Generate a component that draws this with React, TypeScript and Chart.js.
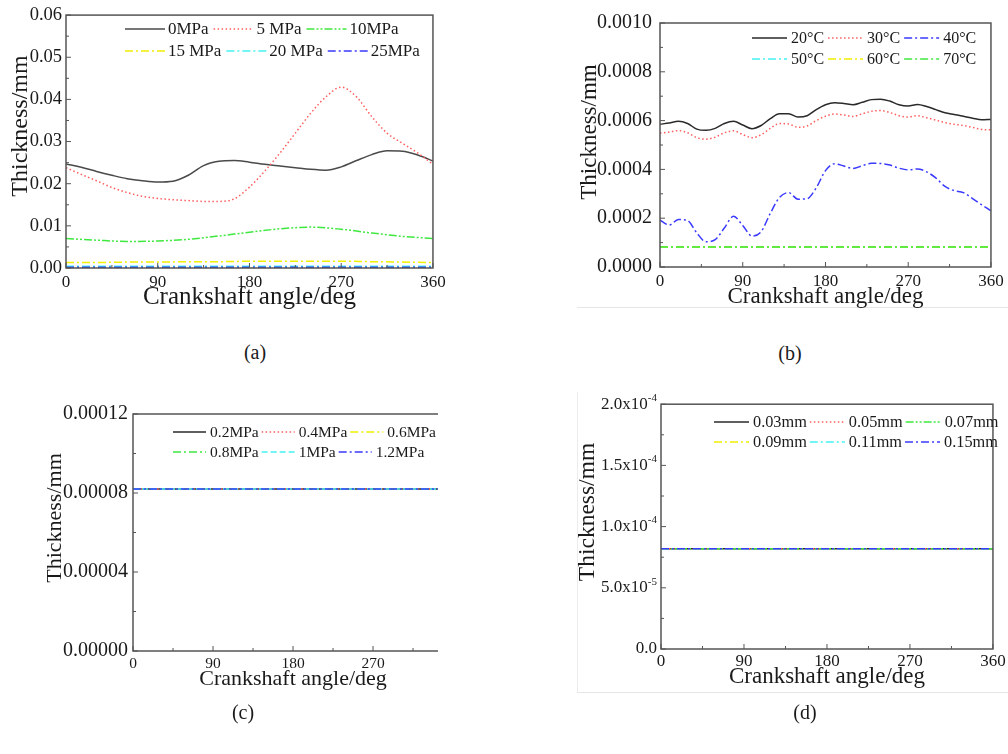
import React, { useEffect, useRef } from 'react';
import { Chart, registerables } from 'chart.js';

Chart.register(...registerables);

const SERIF = "'Liberation Serif', 'Times New Roman', serif";
const INK = '#1a1a1a';
const FRAME = '#555555';

// ---------- shared axis text ----------
const X_TICKS = [0, 90, 180, 270, 360];
const X_LABELS = ['0', '90', '180', '270', '360'];
const X_TITLE = 'Crankshaft angle/deg';
const Y_TITLE = 'Thickness/mm';

// ---------- line styles ----------
const BLACK = '#2a2a2a';
const GRAY = '#4a4a4a';
const RED = '#ff5c5c';
const GREEN = '#3fe83f';
const YELLOW = '#f0f000';
const CYAN = '#45f2f2';
const BLUE = '#3a3aff';
const SOLID: number[] = [];
const DOT = [1.5, 2.5];
const DASHDOT = [8, 3, 2, 3];
const DASHDOTDOT = [8, 2, 2, 2, 2, 2];
const DASH = [6, 3];

// ---------- panel (a) ----------
const A_ANGLES = [0, 15, 30, 45, 60, 75, 90, 105, 120, 135, 150, 165, 180, 195, 210, 225, 240, 255, 270, 285, 300, 315, 330, 345, 360];
const A_0MPA = [0.0247, 0.0239, 0.0229, 0.022, 0.0212, 0.0207, 0.0204, 0.0206, 0.022, 0.0243, 0.0253, 0.0255, 0.0251, 0.0246, 0.0242, 0.0238, 0.0234, 0.0232, 0.024, 0.0255, 0.0269, 0.0278, 0.0277, 0.0268, 0.0254];
const A_5MPA = [0.0238, 0.0222, 0.0207, 0.0191, 0.0179, 0.017, 0.0165, 0.0162, 0.016, 0.0158, 0.0158, 0.0164, 0.0192, 0.023, 0.0273, 0.032, 0.0367, 0.0406, 0.0429, 0.0406, 0.0359, 0.032, 0.0296, 0.0273, 0.0246];
const A_LOW_ANGLES = [0, 30, 60, 90, 120, 150, 180, 210, 240, 270, 300, 330, 360];
const A_10MPA = [0.007, 0.0066, 0.0063, 0.0064, 0.0068, 0.0076, 0.0085, 0.0093, 0.0097, 0.0092, 0.0083, 0.0075, 0.007];
const A_15MPA = [0.0013, 0.0013, 0.0014, 0.0014, 0.0015, 0.0015, 0.0016, 0.0016, 0.0016, 0.0016, 0.0015, 0.0014, 0.0013];
const A_20MPA = [0.0004, 0.0004, 0.0004, 0.0004, 0.0004, 0.0004, 0.0004, 0.0004, 0.0004, 0.0004, 0.0004, 0.0004, 0.0004];
const A_25MPA = [0.0002, 0.0002, 0.0002, 0.0002, 0.0002, 0.0002, 0.0002, 0.0002, 0.0002, 0.0002, 0.0002, 0.0002, 0.0002];
const A_NAMES = ['0MPa', '5 MPa', '10MPa', '15 MPa', '20 MPa', '25MPa'];
const A_Y_TICKS = [0, 0.01, 0.02, 0.03, 0.04, 0.05, 0.06];
const A_Y_LABELS = ['0.00', '0.01', '0.02', '0.03', '0.04', '0.05', '0.06'];

// ---------- panel (b) ----------
const B_ANGLES = [0, 10, 20, 30, 40, 50, 60, 70, 80, 90, 100, 110, 120, 130, 140, 150, 160, 170, 180, 190, 200, 210, 220, 230, 240, 250, 260, 270, 280, 290, 300, 310, 320, 330, 340, 350, 360];
const B_20C = [0.000585, 0.00059, 0.000597, 0.000588, 0.000565, 0.00056, 0.000568, 0.000588, 0.000597, 0.000582, 0.000567, 0.00058, 0.000608, 0.000628, 0.000628, 0.000615, 0.00062, 0.000645, 0.000665, 0.000673, 0.00067, 0.000665, 0.000675, 0.000686, 0.000688, 0.00068, 0.000665, 0.00066, 0.000666, 0.000658, 0.000645, 0.000632, 0.000625, 0.000618, 0.00061, 0.000603, 0.000605];
const B_30C = [0.000548, 0.000553, 0.000559, 0.00055, 0.00053, 0.000524, 0.000532, 0.00055, 0.000558, 0.000543, 0.00053, 0.000542, 0.000568, 0.000588, 0.000586, 0.000573, 0.000578, 0.0006, 0.000618, 0.000627, 0.000623, 0.000617, 0.000628, 0.000638, 0.000641, 0.000633, 0.00062, 0.000615, 0.00062, 0.000612, 0.000602, 0.000592, 0.000585, 0.00058, 0.000572, 0.000564, 0.000562];
const B_40C = [0.000192, 0.000172, 0.000195, 0.00019, 0.00014, 0.000103, 0.000112, 0.00016, 0.000208, 0.00017, 0.000127, 0.000145, 0.00022, 0.000285, 0.000305, 0.000278, 0.00028, 0.000325, 0.000395, 0.000423, 0.000414, 0.000404, 0.000415, 0.000425, 0.000424, 0.000418, 0.000405, 0.000398, 0.000402, 0.00039, 0.000365, 0.00033, 0.000313, 0.000305, 0.00028, 0.000255, 0.00023];
const B_FLAT_ANGLES = [0, 360];
const B_50C = [0.000082, 0.000082];
const B_60C = [0.000082, 0.000082];
const B_70C = [0.000082, 0.000082];
const B_NAMES = ['20\u00B0C', '30\u00B0C', '40\u00B0C', '50\u00B0C', '60\u00B0C', '70\u00B0C'];
const B_Y_TICKS = [0, 0.0002, 0.0004, 0.0006, 0.0008, 0.001];
const B_Y_LABELS = ['0.0000', '0.0002', '0.0004', '0.0006', '0.0008', '0.0010'];

// ---------- panel (c) ----------
const C_ANGLES = [0, 360];
const C_02MPA = [0.000082, 0.000082];
const C_04MPA = [0.000082, 0.000082];
const C_06MPA = [0.000082, 0.000082];
const C_08MPA = [0.000082, 0.000082];
const C_1MPA = [0.000082, 0.000082];
const C_12MPA = [0.000082, 0.000082];
const C_NAMES = ['0.2MPa', '0.4MPa', '0.6MPa', '0.8MPa', '1MPa', '1.2MPa'];
const C_Y_TICKS = [0, 0.00004, 0.00008, 0.00012];
const C_Y_LABELS = ['0.00000', '0.00004', '0.00008', '0.00012'];

// ---------- panel (d) ----------
const D_ANGLES = [0, 360];
const D_003 = [0.000082, 0.000082];
const D_005 = [0.000082, 0.000082];
const D_007 = [0.000082, 0.000082];
const D_009 = [0.000082, 0.000082];
const D_011 = [0.000082, 0.000082];
const D_015 = [0.000082, 0.000082];
const D_NAMES = ['0.03mm', '0.05mm', '0.07mm', '0.09mm', '0.11mm', '0.15mm'];
const D_Y_TICKS = [0, 0.00005, 0.0001, 0.00015, 0.0002];
const D_Y_MANT = ['0.0', '5.0x10', '1.0x10', '1.5x10', '2.0x10'];
const D_Y_EXP = ['', '-5', '-4', '-4', '-4'];

type Series = { label: string; angles: number[]; values: number[]; color: string; dash: number[] };
type Spec = {
  left: number; top: number; w: number; h: number; clipW?: number;
  padTop: number; padRight: number; yWidth: number; xHeight: number;
  yMax: number; yTicks: number[]; yLabels?: string[]; yFont: number; yPad: number;
  sup?: { mant: string[]; exp: string[]; font: number; expFont: number; pad: number };
  xFont: number; xPad: number; xTitleFont: number; xTitlePad: number;
  yTitle: { x: number; y: number; font: number };
  legend: { x: number; rows: number[]; lineLen: number; gapText: number; gapItem: number; font: number };
  series: Series[];
};

const SPEC_A: Spec = {
  left: 0, top: 0, w: 450, h: 320,
  padTop: 12, padRight: 17, yWidth: 66, xHeight: 52,
  yMax: 0.06, yTicks: A_Y_TICKS, yLabels: A_Y_LABELS, yFont: 18.5, yPad: 4,
  xFont: 17, xPad: 4.3, xTitleFont: 25, xTitlePad: 8,
  yTitle: { x: 21, y: 126, font: 24 },
  legend: { x: 125, rows: [29, 51], lineLen: 40, gapText: 3, gapItem: 5, font: 17 },
  series: [
    { label: A_NAMES[0], angles: A_ANGLES, values: A_0MPA, color: GRAY, dash: SOLID },
    { label: A_NAMES[1], angles: A_ANGLES, values: A_5MPA, color: RED, dash: DOT },
    { label: A_NAMES[2], angles: A_LOW_ANGLES, values: A_10MPA, color: GREEN, dash: DASHDOTDOT },
    { label: A_NAMES[3], angles: A_LOW_ANGLES, values: A_15MPA, color: YELLOW, dash: DASHDOT },
    { label: A_NAMES[4], angles: A_LOW_ANGLES, values: A_20MPA, color: CYAN, dash: DASHDOT },
    { label: A_NAMES[5], angles: A_LOW_ANGLES, values: A_25MPA, color: BLUE, dash: DASHDOT },
  ],
};

const SPEC_B: Spec = {
  left: 570, top: 0, w: 438, h: 320,
  padTop: 23, padRight: 12, yWidth: 90, xHeight: 53,
  yMax: 0.001, yTicks: B_Y_TICKS, yLabels: B_Y_LABELS, yFont: 20, yPad: 8,
  xFont: 17, xPad: 4.3, xTitleFont: 23, xTitlePad: 9.2,
  yTitle: { x: 20, y: 132, font: 23 },
  legend: { x: 182, rows: [38, 59], lineLen: 35, gapText: 4, gapItem: 4, font: 16 },
  series: [
    { label: B_NAMES[0], angles: B_ANGLES, values: B_20C, color: BLACK, dash: SOLID },
    { label: B_NAMES[1], angles: B_ANGLES, values: B_30C, color: RED, dash: DOT },
    { label: B_NAMES[2], angles: B_ANGLES, values: B_40C, color: BLUE, dash: DASHDOT },
    { label: B_NAMES[3], angles: B_FLAT_ANGLES, values: B_50C, color: CYAN, dash: DASHDOT },
    { label: B_NAMES[4], angles: B_FLAT_ANGLES, values: B_60C, color: YELLOW, dash: DASHDOT },
    { label: B_NAMES[5], angles: B_FLAT_ANGLES, values: B_70C, color: GREEN, dash: DASHDOT },
  ],
};

const SPEC_C: Spec = {
  left: 0, top: 390, w: 470, h: 320, clipW: 438,
  padTop: 24, padRight: 17, yWidth: 133, xHeight: 59,
  yMax: 0.00012, yTicks: C_Y_TICKS, yLabels: C_Y_LABELS, yFont: 20, yPad: 5,
  xFont: 15.5, xPad: 3.2, xTitleFont: 22, xTitlePad: 17.8,
  yTitle: { x: 55, y: 128, font: 22 },
  legend: { x: 173, rows: [42, 62], lineLen: 33, gapText: 4, gapItem: 3, font: 15.5 },
  series: [
    { label: C_NAMES[0], angles: C_ANGLES, values: C_02MPA, color: BLACK, dash: SOLID },
    { label: C_NAMES[1], angles: C_ANGLES, values: C_04MPA, color: RED, dash: DOT },
    { label: C_NAMES[2], angles: C_ANGLES, values: C_06MPA, color: YELLOW, dash: DASHDOT },
    { label: C_NAMES[3], angles: C_ANGLES, values: C_08MPA, color: GREEN, dash: DASHDOT },
    { label: C_NAMES[4], angles: C_ANGLES, values: C_1MPA, color: CYAN, dash: DASH },
    { label: C_NAMES[5], angles: C_ANGLES, values: C_12MPA, color: BLUE, dash: DASHDOT },
  ],
};

const SPEC_D: Spec = {
  left: 570, top: 390, w: 438, h: 320,
  padTop: 14, padRight: 13, yWidth: 91, xHeight: 61,
  yMax: 0.0002, yTicks: D_Y_TICKS, yFont: 17, yPad: 4,
  sup: { mant: D_Y_MANT, exp: D_Y_EXP, font: 17, expFont: 11, pad: 4 },
  xFont: 17, xPad: 2.3, xTitleFont: 23, xTitlePad: 19.2,
  yTitle: { x: 18, y: 122, font: 23.5 },
  legend: { x: 144, rows: [32, 52], lineLen: 35, gapText: 4, gapItem: 3, font: 16.3 },
  series: [
    { label: D_NAMES[0], angles: D_ANGLES, values: D_003, color: BLACK, dash: SOLID },
    { label: D_NAMES[1], angles: D_ANGLES, values: D_005, color: RED, dash: DOT },
    { label: D_NAMES[2], angles: D_ANGLES, values: D_007, color: GREEN, dash: DASHDOTDOT },
    { label: D_NAMES[3], angles: D_ANGLES, values: D_009, color: YELLOW, dash: DASHDOT },
    { label: D_NAMES[4], angles: D_ANGLES, values: D_011, color: CYAN, dash: DASHDOT },
    { label: D_NAMES[5], angles: D_ANGLES, values: D_015, color: BLUE, dash: DASHDOT },
  ],
};

const decorPlugin = {
  id: 'decor',
  afterDraw(chart: any, _args: any, o: any) {
    const { ctx, chartArea: ca } = chart;
    const xs = chart.scales.x;
    const ys = chart.scales.y;
    ctx.save();
    ctx.setLineDash([]);
    // frame
    ctx.strokeStyle = FRAME;
    ctx.lineWidth = 1.5;
    ctx.strokeRect(ca.left, ca.top, ca.right - ca.left, ca.bottom - ca.top);
    // inward ticks
    ctx.lineWidth = 1;
    const seg = (x1: number, y1: number, x2: number, y2: number) => {
      ctx.beginPath();
      ctx.moveTo(x1, y1);
      ctx.lineTo(x2, y2);
      ctx.stroke();
    };
    const xv = xs.ticks.map((t: any) => t.value);
    xv.forEach((v: number, i: number) => {
      const p = xs.getPixelForValue(v);
      seg(p, ca.bottom, p, ca.bottom - 5);
      if (i < xv.length - 1) {
        const m = xs.getPixelForValue((v + xv[i + 1]) / 2);
        seg(m, ca.bottom, m, ca.bottom - 3);
      }
    });
    const yv = ys.ticks.map((t: any) => t.value);
    yv.forEach((v: number, i: number) => {
      const p = ys.getPixelForValue(v);
      seg(ca.left, p, ca.left + 5, p);
      if (i < yv.length - 1) {
        const m = ys.getPixelForValue((v + yv[i + 1]) / 2);
        seg(ca.left, m, ca.left + 3, m);
      }
    });
    // superscript tick labels
    if (o.sup) {
      ctx.fillStyle = INK;
      ctx.textBaseline = 'middle';
      yv.forEach((v: number, i: number) => {
        const p = ys.getPixelForValue(v);
        let xr = ca.left - o.sup.pad;
        const e = o.sup.exp[i];
        if (e) {
          ctx.font = `${o.sup.expFont}px ${SERIF}`;
          ctx.textAlign = 'right';
          ctx.fillText(e, xr, p - 6);
          xr -= ctx.measureText(e).width;
        }
        ctx.font = `${o.sup.font}px ${SERIF}`;
        ctx.textAlign = 'right';
        ctx.fillText(o.sup.mant[i], xr, p);
      });
    }
    // y title
    ctx.save();
    ctx.translate(o.yTitle.x, o.yTitle.y);
    ctx.rotate(-Math.PI / 2);
    ctx.font = `${o.yTitle.font}px ${SERIF}`;
    ctx.fillStyle = INK;
    ctx.textAlign = 'center';
    ctx.textBaseline = 'middle';
    ctx.fillText(Y_TITLE, 0, 0);
    ctx.restore();
    // legend
    const L = o.legend;
    ctx.font = `${L.font}px ${SERIF}`;
    ctx.textBaseline = 'middle';
    ctx.textAlign = 'left';
    let x = L.x;
    chart.data.datasets.forEach((ds: any, i: number) => {
      if (i % 3 === 0) x = L.x;
      const y = L.rows[Math.floor(i / 3)];
      ctx.strokeStyle = ds.borderColor;
      ctx.lineWidth = 1.5;
      ctx.setLineDash(ds.borderDash || []);
      seg(x, y, x + L.lineLen, y);
      ctx.setLineDash([]);
      x += L.lineLen + L.gapText;
      ctx.fillStyle = INK;
      ctx.fillText(ds.label, x, y + 1);
      x += ctx.measureText(ds.label).width + L.gapItem;
    });
    ctx.restore();
  },
};

function buildChart(canvas: HTMLCanvasElement, s: Spec) {
  const n = s.series.length;
  const datasets = s.series.map((se, i) => ({
    label: se.label,
    data: se.angles.map((a, j) => ({ x: a, y: se.values[j] })),
    borderColor: se.color,
    borderDash: se.dash,
    borderWidth: 1.5,
    pointRadius: 0,
    fill: false,
    cubicInterpolationMode: 'monotone',
    order: n - i,
  }));
  return new Chart(canvas, {
    type: 'line',
    data: { datasets } as any,
    options: {
      animation: false,
      responsive: false,
      devicePixelRatio: 1,
      layout: { padding: { left: 0, top: s.padTop, right: s.padRight, bottom: 0 } },
      plugins: {
        legend: { display: false },
        tooltip: { enabled: false },
        decor: { yTitle: s.yTitle, legend: s.legend, sup: s.sup },
      } as any,
      scales: {
        x: {
          type: 'linear',
          min: 0,
          max: 360,
          grid: { display: false, drawTicks: false },
          border: { display: false },
          afterBuildTicks: (sc: any) => { sc.ticks = X_TICKS.map((v) => ({ value: v })); },
          afterFit: (sc: any) => { sc.height = s.xHeight; },
          ticks: {
            autoSkip: false,
            maxRotation: 0,
            padding: s.xPad,
            color: INK,
            font: { family: SERIF, size: s.xFont },
            callback: (_v: any, i: number) => X_LABELS[i],
          },
          title: {
            display: true,
            text: X_TITLE,
            color: INK,
            font: { family: SERIF, size: s.xTitleFont },
            padding: { top: 0, bottom: s.xTitlePad },
          },
        },
        y: {
          type: 'linear',
          min: 0,
          max: s.yMax,
          grid: { display: false, drawTicks: false },
          border: { display: false },
          afterBuildTicks: (sc: any) => { sc.ticks = s.yTicks.map((v) => ({ value: v })); },
          afterFit: (sc: any) => { sc.width = s.yWidth; },
          ticks: {
            autoSkip: false,
            padding: s.yPad,
            color: INK,
            font: { family: SERIF, size: s.yFont },
            callback: (_v: any, i: number) => (s.yLabels ? s.yLabels[i] : ''),
          },
        },
      } as any,
    },
    plugins: [decorPlugin as any],
  });
}

function Panel({ spec }: { spec: Spec }) {
  const ref = useRef<HTMLCanvasElement>(null);
  useEffect(() => {
    const chart = buildChart(ref.current as HTMLCanvasElement, spec);
    return () => chart.destroy();
  }, [spec]);
  return (
    <div style={{ position: 'absolute', left: spec.left, top: spec.top, width: spec.clipW ?? spec.w, height: spec.h, overflow: 'hidden' }}>
      <canvas ref={ref} width={spec.w} height={spec.h} style={{ display: 'block', width: spec.w, height: spec.h }} />
    </div>
  );
}

const CAPTIONS = [
  { text: '(a)', x: 255, y: 352 },
  { text: '(b)', x: 790, y: 353 },
  { text: '(c)', x: 243, y: 712 },
  { text: '(d)', x: 805, y: 712 },
];

export default function App() {
  return (
    <div style={{ position: 'absolute', left: 0, top: 0, width: 1008, height: 754, background: '#ffffff', overflow: 'hidden', fontFamily: SERIF }}>
      <div style={{ position: 'absolute', left: 577, top: 307, width: 431, height: 1, background: '#e6e6e6' }} />
      <div style={{ position: 'absolute', left: 577, top: 692, width: 431, height: 1, background: '#e6e6e6' }} />
      <div style={{ position: 'absolute', left: 577, top: 392, width: 1, height: 300, background: '#ececec' }} />
      <Panel spec={SPEC_A} />
      <Panel spec={SPEC_B} />
      <Panel spec={SPEC_C} />
      <Panel spec={SPEC_D} />
      {CAPTIONS.map((c) => (
        <div key={c.text} style={{ position: 'absolute', left: c.x - 30, top: c.y - 12, width: 60, height: 24, lineHeight: '24px', textAlign: 'center', fontSize: 20, color: INK }}>
          {c.text}
        </div>
      ))}
    </div>
  );
}
